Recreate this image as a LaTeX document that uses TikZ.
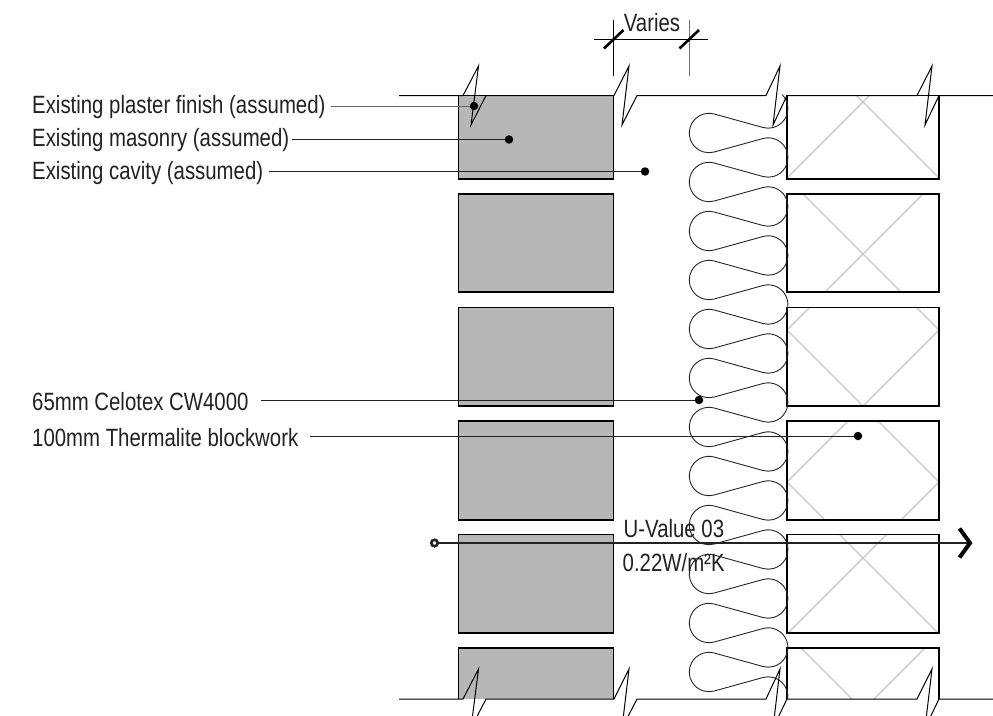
\documentclass[tikz,border=0pt]{standalone}
\usepackage{fontspec}
\setmainfont[FakeStretch=0.815]{Liberation Sans}
\definecolor{brick}{HTML}{B7B7B7}
\definecolor{crossgray}{HTML}{C8C8C8}
\definecolor{inkdark}{HTML}{222222}
\begin{document}
\begin{tikzpicture}[x=1pt,y=-1pt,
  lbl/.style={inner sep=0pt,anchor=west,font=\fontsize{25}{25}\selectfont,text=inkdark,yshift=-1.2pt},
  brickbox/.style={draw=black,line width=1.6pt,fill=brick},
  blockbox/.style={draw=black,line width=1.6pt},
  leader/.style={draw=inkdark,line width=1pt},
  dotmark/.style={circle,fill=black,inner sep=0pt,minimum size=8.5pt},
  crossline/.style={draw=crossgray,line width=1.1pt},
  zigline/.style={draw=black,line width=1pt,line join=miter},
  batt/.style={draw=black!85,line width=0.9pt}]
\clip (0,0) rectangle (993,715);
\fill[white] (0,0) rectangle (993,715);
% masonry
\fill[brick] (458.5,95.5) rectangle (613.5,179);
\draw[brickbox,fill=none] (458.5,95.5) rectangle (613.5,179);
\draw[brickbox] (458.5,194) rectangle (613.5,292);
\draw[brickbox] (458.5,307.5) rectangle (613.5,406);
\draw[brickbox] (458.5,421) rectangle (613.5,520);
\draw[brickbox] (458.5,534.5) rectangle (613.5,633);
\fill[brick] (458.5,648) rectangle (613.5,699);
\draw[brickbox,fill=none] (458.5,699) -- (458.5,648) -- (613.5,648) -- (613.5,699);
% blockwork cross hatching
\begin{scope}
\clip (787,95.5) rectangle (939,179)
      (787,194) rectangle (939,292)
      (787,307.5) rectangle (939,406)
      (787,421) rectangle (939,520)
      (787,534.5) rectangle (939,633)
      (787,648) rectangle (939,699);
\draw[crossline] (787,178) -- (872,93) (939,178) -- (854,93);
\foreach \t in {178,330,482,634}{
  \draw[crossline] (787,\t) -- (939,{\t+152});
  \draw[crossline] (939,\t) -- (787,{\t+152});
}
\end{scope}
\foreach \a/\b in {179/95.5,292/194,406/307.5,520/421,633/534.5}{
  \draw[blockbox] (787,\b) rectangle (939,\a);
}
\draw[blockbox] (787,699) -- (787,648) -- (939,648) -- (939,699);
\draw[blockbox] (787,95.5) -- (787,179);
% insulation batt
\begin{scope}[y=1pt]
\def\ra{19.7}\def\al{15.4}\def\cr{768.2}
\draw[batt] ({\cr+\ra*cos(45)},{-108.5+\ra*sin(45)})
  arc[start angle=45,end angle={-90-\al},radius=\ra]
  \foreach \k [evaluate=\k as \c using {-133-49*\k}] in {0,...,10}{
    -- ({709+\ra*cos(90-\al)},{\c+\ra*sin(90-\al)})
    arc[start angle={90-\al},end angle={270+\al},radius=\ra]
    -- ({\cr+\ra*cos(90+\al)},{\c-24.5+\ra*sin(90+\al)})
    arc[start angle={90+\al},end angle={-90-\al},radius=\ra]
  }
  -- ({709+\ra*cos(90-\al)},{-672+\ra*sin(90-\al)})
  arc[start angle={90-\al},end angle={270+\al},radius=\ra]
  -- ({\cr+\ra*cos(90+\al)},{-696.5+\ra*sin(90+\al)})
  arc[start angle={90+\al},end angle={-8},radius=\ra];
\end{scope}
% top and bottom break lines
\foreach \y/\u/\d in {95.5/66/125,699/669/728}{
  \draw[zigline] (399,\y) -- (463,\y) -- (478.5,\u) -- (471,\d) -- (486,\y) -- (614,\y)
     -- (629,\u) -- (622,\d) -- (637,\y) -- (766,\y)
     -- (780,\u) -- (773,\d) -- (787,\y) -- (917,\y)
     -- (932,\u) -- (925,\d) -- (939,\y) -- (993,\y);
}
% dimension
\coordinate (dimL) at (594,39.5);
\coordinate (dimR) at (708,39.5);
\coordinate (extAt) at (613.5,20);
\coordinate (extAb) at (613.5,76);
\coordinate (extBt) at (689,20);
\coordinate (extBb) at (689,76);
\coordinate (tickAa) at (604,48.5);
\coordinate (tickAb) at (623.5,30);
\coordinate (tickBa) at (679.5,48.5);
\coordinate (tickBb) at (699,30);
\draw[draw=black,line width=0.9pt] (dimL) -- (dimR);
\draw[draw=black,line width=0.9pt] (extAt) -- (extAb);
\draw[draw=black!55,line width=1pt] (extBt) -- (extBb);
\draw[line width=2.6pt] (tickAa) -- (tickAb);
\draw[line width=2.6pt] (tickBa) -- (tickBb);
\node[lbl,anchor=center] (varies) at (652,21) {Varies};
% labels & leaders
\node[lbl] (t1) at (32,106) {Existing plaster finish (assumed)};
\node[lbl] (t2) at (32,139) {Existing masonry (assumed)};
\node[lbl] (t3) at (32,171.5) {Existing cavity (assumed)};
\node[lbl] (t4) at (32,400) {65mm Celotex CW4000};
\node[lbl] (t5) at (32,436) {100mm Thermalite blockwork};
\node[dotmark] (d1) at (474,106) {};
\node[dotmark] (d2) at (509,139.5) {};
\node[dotmark] (d3) at (645,171.5) {};
\node[dotmark] (d4) at (699,400) {};
\node[dotmark] (d5) at (858,436) {};
\coordinate (s1) at (331,106);
\coordinate (s2) at (292,139.5);
\coordinate (s3) at (269,171.5);
\coordinate (s4) at (261,400);
\coordinate (s5) at (310,436);
\draw[leader,draw=black!60] (s1) -- (d1);
\draw[leader] (s2) -- (d2);
\draw[leader] (s3) -- (d3);
\draw[leader] (s4) -- (d4);
\draw[leader] (s5) -- (d5);
% U-value line
\node[circle,draw=inkdark,line width=2.6pt,fill=white,inner sep=0pt,minimum size=6.5pt] (uo) at (434.5,543) {};
\coordinate (ue) at (970,543);
\draw[inkdark,line width=1.8pt] (uo) -- (ue);
\coordinate (cha) at (959.5,528.5);
\coordinate (chb) at (959.5,557.5);
\draw[black,line width=4pt,line join=miter] (cha) -- (ue) -- (chb);
\node[lbl] (u1) at (623.5,527) {U-Value 03};
\node[lbl] (u2) at (622.5,561) {0.22W/m²K};
\end{tikzpicture}
\end{document}
